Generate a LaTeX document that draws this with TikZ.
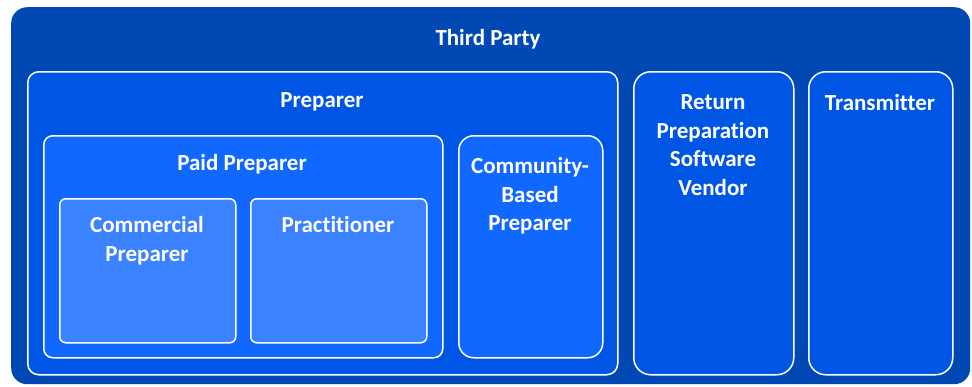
\documentclass[tikz,border=0pt]{standalone}
\usepackage{fontspec}
\setmainfont[Ligatures={NoCommon}]{Carlito}
\definecolor{cOuter}{RGB}{0,72,180}
\definecolor{cMid}{RGB}{0,86,228}
\definecolor{cLight}{RGB}{17,104,255}
\definecolor{cInner}{RGB}{58,130,255}
\tikzset{
  boxbase/.style={draw=white, line width=1.5pt, anchor=north west, inner sep=0pt},
  outerbox/.style={fill=cOuter, anchor=north west, inner sep=0pt, rounded corners=16pt},
  lvlone/.style={boxbase, fill=cMid},
  lvltwo/.style={boxbase, fill=cLight},
  lvlthree/.style={boxbase, fill=cInner},
  lbl/.style={text=white, font=\fontsize{23}{28.5}\selectfont\bfseries, align=center, anchor=north, inner sep=0pt}
}
\begin{document}
\begin{tikzpicture}[x=1pt,y=-1pt]
\useasboundingbox (0,0) rectangle (972,386);
% outer
\node[outerbox, minimum width=959pt, minimum height=377pt] (third) at (11,7) {};
\node[lbl] (thirdlbl) at (488,29) {Third Party};
% preparer
\node[lvlone, rounded corners=11pt, minimum width=590pt, minimum height=303pt] (prep) at (27,71) {};
\node[lbl] (preplbl) at (322,92.5) {Preparer};
% paid preparer
\node[lvltwo, rounded corners=9pt, minimum width=399pt, minimum height=222pt] (paid) at (43,135) {};
\node[lbl] (paidlbl) at (242,154.5) {Paid Preparer};
% commercial
\node[lvlthree, rounded corners=6pt, minimum width=176pt, minimum height=144pt] (comm) at (59,198) {};
\node[lbl] (commlbl) at (147,216.5) {Commercial\\Preparer};
% practitioner
\node[lvlthree, rounded corners=6pt, minimum width=176pt, minimum height=144pt] (prac) at (250,198) {};
\node[lbl] (praclbl) at (338,216.5) {Practitioner};
% community
\node[lvltwo, rounded corners=15pt, minimum width=144pt, minimum height=222pt] (cbp) at (458,135) {};
\node[lbl] (cbplbl) at (530,157.5) {Community-\\Based\\Preparer};
% return preparation software vendor
\node[lvlone, rounded corners=17pt, minimum width=160pt, minimum height=303pt] (rpsv) at (633,71) {};
\node[lbl] (rpsvlbl) at (713,94.5) {Return\\Preparation\\Software\\Vendor};
% transmitter
\node[lvlone, rounded corners=17pt, minimum width=144pt, minimum height=303pt] (trans) at (808,71) {};
\node[lbl] (translbl) at (880,94.5) {Transmitter};
\end{tikzpicture}
\end{document}
